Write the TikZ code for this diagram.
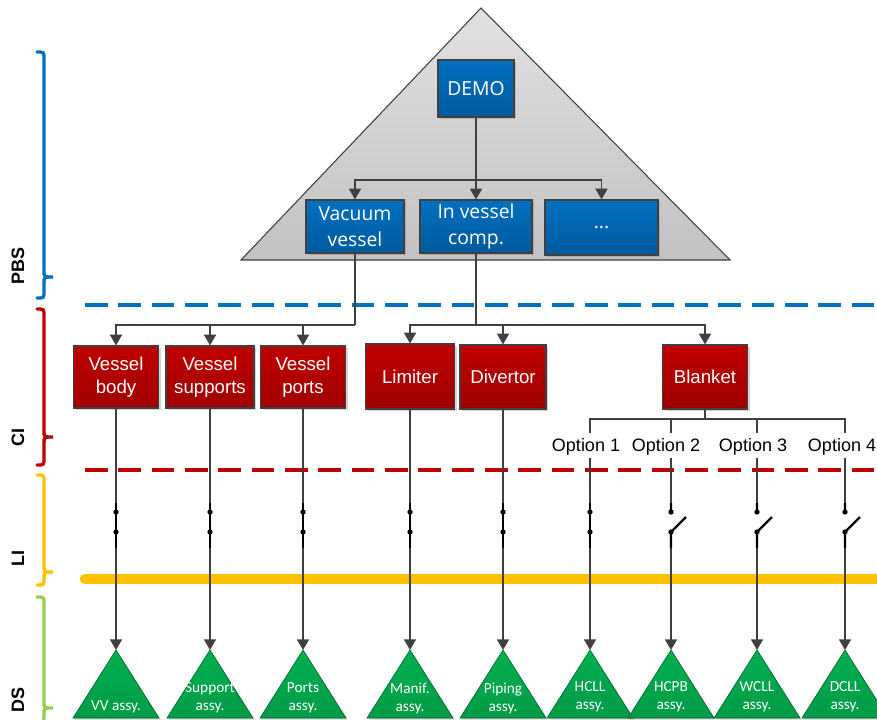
\documentclass[tikz,border=0pt]{standalone}
\usepackage{fontspec}
\setmainfont{Liberation Sans}
\newfontfamily\pbsfont{Open Sans}
\newfontfamily\dsfont{Carlito}
\usetikzlibrary{arrows.meta,shadows}
\definecolor{pbsblue}{HTML}{0070C0}
\definecolor{pbsbluedark}{HTML}{005A9E}
\definecolor{cired}{HTML}{C00000}
\definecolor{cireddark}{HTML}{A00000}
\definecolor{liyellow}{HTML}{FFC000}
\definecolor{dsgreen}{HTML}{92D050}
\definecolor{trigreen}{HTML}{00B050}
\definecolor{edgegray}{HTML}{404040}
\tikzset{
    box/.style = {draw = edgegray, line width = 0.9pt, text = white, align = center, inner sep = 0pt,
        drop shadow = {shadow xshift = 1.5pt, shadow yshift = -1.5pt, opacity = 0.35}},
    pbsbox/.style = {box, top color = pbsblue, bottom color = pbsbluedark,
        font = \pbsfont\fontsize{14.5}{19.5}\selectfont},
    cibox/.style = {box, top color = cired, bottom color = cireddark, minimum height = 46.5pt,
        font = \fontsize{14}{17}\selectfont},
    conn/.style = {draw = edgegray, line width = 1.1pt},
    conarrow/.style = {-{Triangle[length = 8pt, width = 9pt]}},
    swline/.style = {black, line width = 1.7pt},
    optlabel/.style = {inner sep = 2pt, font = \fontsize{13.5}{16}\selectfont},
    sidelabel/.style = {rotate = 90, inner sep = 0pt, font = \bfseries\fontsize{13.5}{16}\selectfont},
    dstri/.style = {draw = trigreen!60!black, line width = 0.5pt, top color = trigreen, bottom color = trigreen!88!black,
        drop shadow = {shadow xshift = 1.2pt, shadow yshift = -1.2pt, opacity = 0.35}},
    dstext/.style = {text = white, align = center, inner sep = 0pt, font = \dsfont\fontsize{11.5}{13.5}\selectfont}
}
\begin{document}
\begin{tikzpicture}[x = 0.75pt, y = -0.75pt]
    \useasboundingbox (0,0) rectangle (877,719);
    \draw[draw = edgegray, line width = 0.8pt, top color = black!12, bottom color = black!24] (481,8) -- (730,260) -- (241,260) -- cycle;

    \draw[pbsblue, line width = 2.6pt, dash pattern = on 17pt off 8pt] (85,305) -- (877,305);
    \draw[cired, line width = 2.6pt, dash pattern = on 17pt off 8pt] (85,470) -- (877,470);
    \draw[liyellow, line width = 8pt, line cap = round] (85,579) -- (890,579);

    \foreach \col/\ya/\yb/\yc in {pbsblue/52/277/298, cired/309/437/465, liyellow/475/572/585, dsgreen/597/708/722} {
        \draw[\col, line width = 2.5pt, line cap = round] (37,\ya) .. controls (44,\ya) .. (44,\ya+7) -- (44,\yb-6)
            .. controls (44,\yb) .. (53,\yb) .. controls (44,\yb) .. (44,\yb+6) -- (44,\yc-7) .. controls (44,\yc) .. (37,\yc);
    }
    \node[sidelabel] (pbs) at (18,266) {PBS};
    \node[sidelabel] (ci) at (18,437) {CI};
    \node[sidelabel] (li) at (18,558) {LI};
    \node[sidelabel] (ds) at (18,700) {DS};

    \node[pbsbox, minimum width = 57pt, minimum height = 42.75pt] (demo) at (476,88.5) {DEMO};
    \node[pbsbox, minimum width = 73.5pt, minimum height = 39.75pt] (vacuum) at (355,226.5) {Vacuum\\vessel};
    \node[pbsbox, minimum width = 84pt, minimum height = 39.75pt] (invessel) at (476,226.5) {In vessel\\comp.};
    \node[pbsbox, minimum width = 84.75pt, minimum height = 41.25pt] (morepbs) at (601.5,227.5) {...};

    \node[cibox, minimum width = 63.75pt] (vbody) at (116,377) {Vessel\\body};
    \node[cibox, minimum width = 66pt] (vsupports) at (210,377) {Vessel\\supports};
    \node[cibox, minimum width = 63.75pt] (vports) at (303,377) {Vessel\\ports};
    \node[cibox, minimum width = 66.75pt, minimum height = 48.75pt] (limiter) at (410,376.5) {Limiter};
    \node[cibox, minimum width = 64.5pt, minimum height = 48pt] (divertor) at (503,377) {Divertor};
    \node[cibox, minimum width = 63.75pt, minimum height = 48pt] (blanket) at (705,377) {Blanket};

    \coordinate (pbsbus) at (476,180);
    \coordinate (vvbus) at (355,325);
    \coordinate (ivcbus) at (476,325);
    \coordinate (blanketbus) at (705,419);

    \draw[conn, conarrow] (demo) -- (invessel);
    \draw[conn, conarrow] (pbsbus) -| (vacuum);
    \draw[conn, conarrow] (pbsbus) -| (morepbs);
    \draw[conn] (vacuum) -- (vvbus);
    \foreach \n in {vbody, vsupports, vports}
        \draw[conn, conarrow] (vvbus) -| (\n);
    \draw[conn] (invessel) -- (ivcbus);
    \foreach \n in {limiter, divertor, blanket}
        \draw[conn, conarrow] (ivcbus) -| (\n);
    \draw[conn] (blanket) -- (blanketbus);
    \foreach \x/\lx/\k in {590/586/1, 671/666/2, 757/753/3, 845/842/4} {
        \node[optlabel] (opt\k) at (\lx,447) {Option \k};
        \coordinate (opt\k-top) at (\x,433);
        \coordinate (opt\k-bottom) at (\x,458);
        \draw[conn] (blanketbus) -| (opt\k-top);
    }

    \foreach \x/\dsname/\ty/\txt in {116/vv/707/{VV assy.}, 210/supportds/698/{Support\\assy.}, 303/portsds/698/{Ports\\assy.},
            410/manifds/698/{Manif.\\assy.}, 503/pipingds/698/{Piping\\assy.}, 590/hcll/697/{HCLL\\assy.},
            671/hcpb/697/{HCPB\\assy.}, 757/wcll/697/{WCLL\\assy.}, 845/dcll/697/{DCLL\\assy.}} {
        \coordinate (\dsname) at (\x,650);
        \path[dstri] (\x,650) -- (\x+43,718) -- (\x-43,718) -- cycle;
        \node[dstext] (\dsname-text) at (\x,\ty) {\txt};
    }

    \foreach \a/\b in {vbody/vv, vsupports/supportds, vports/portsds, limiter/manifds, divertor/pipingds, opt1-bottom/hcll}
        \draw[conn, conarrow] (\a) -- (\b);
    \foreach \x in {116, 210, 303, 410, 503, 590} {
        \draw[swline] (\x,503) -- (\x,548);
        \fill (\x,512) circle (2pt) (\x,532) circle (2pt);
    }
    \foreach \x/\k/\dsname in {671/2/hcpb, 757/3/wcll, 845/4/dcll} {
        \coordinate (\dsname-top) at (\x,503);
        \coordinate (\dsname-bottom) at (\x,548);
        \draw[conn] (opt\k-bottom) -- (\dsname-top);
        \draw[conn, conarrow] (\dsname-bottom) -- (\dsname);
        \draw[swline] (\dsname-top) -- (\x,512) (\x,532) -- (\dsname-bottom) (\x,532) -- ++(15,-15);
        \fill (\x,512) circle (2pt) (\x,532) circle (2pt);
    }
\end{tikzpicture}
\end{document}
